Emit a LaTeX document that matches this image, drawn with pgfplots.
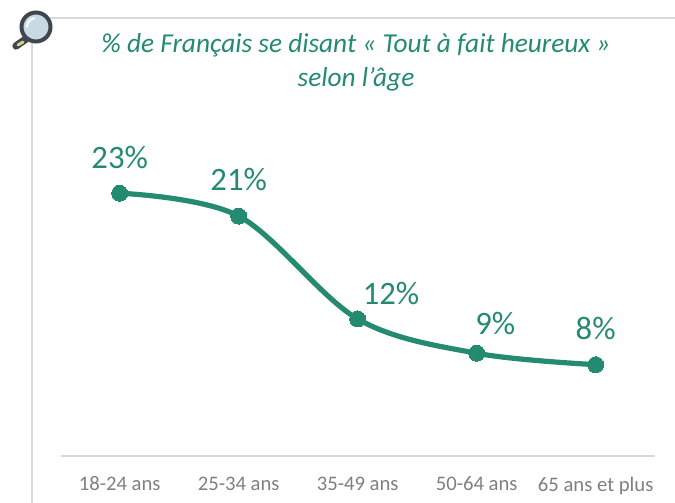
\documentclass[border=0pt]{standalone}
\usepackage{pgfplots}
\pgfplotsset{compat=1.18}
\usepackage{fontspec}
\setmainfont{Carlito}
\definecolor{vert}{HTML}{248A70}
\definecolor{grille}{HTML}{D9D9D9}
\definecolor{tick}{HTML}{7F7F7F}
\definecolor{loupe}{HTML}{3F464D}
\definecolor{verre}{HTML}{C9D9E4}
\definecolor{manche}{HTML}{D6D27A}
\pgfplotstableread{
x y
0 23
1 21
2 12
3 9
4 8
}\donnees
\begin{document}
\begin{tikzpicture}[x=0.75pt,y=0.75pt]
\useasboundingbox (0,0) rectangle (675,503);
\draw[grille,line width=1.5pt] (50,485) -- (675,485);
\draw[grille,line width=1.5pt] (32,461) -- (32,0);
% loupe
\draw[line cap=round,line width=5.5pt,color=loupe] (26,464) -- (16,457);
\draw[line cap=round,line width=2.2pt,color=manche] (23,461) -- (18,458);
\draw[line width=3pt,color=loupe,fill=verre] (36,476) circle (14.5);
\draw[white,line width=1.5pt,line cap=round] (27,476) arc (180:100:9);
\begin{axis}[
  at={(51,41)},anchor=south west,
  scale only axis,width=445.5pt,height=257.2pt,
  xmin=-0.496,xmax=4.496,ymin=0,ymax=30,
  axis y line=none,axis x line=bottom,
  axis line style={grille,line width=1.5pt,-},
  xtick={0,1,2,3,4},
  xticklabels={18-24 ans,25-34 ans,35-49 ans,50-64 ans,65 ans et plus},
  major tick length=0pt,
  xticklabel style={text=tick,font=\fontsize{15.5pt}{18pt}\selectfont,yshift=-12pt},
  clip=false,
]
\addplot[vert,line width=3.9pt,smooth,tension=0.55,mark=*,
  mark options={fill=vert,draw=vert,line width=0pt},mark size=6pt,
  nodes near coords={\pgfmathprintnumber[assume math mode=true]{\pgfplotspointmeta}\%},
  point meta=y,
  every node near coord/.style={anchor=center,text=vert,font=\fontsize{24.5pt}{28pt}\selectfont,yshift=27pt},
  coordinate style/.condition={x==1}{yshift=0.5pt},
  coordinate style/.condition={x==2}{xshift=25pt,yshift=-8pt},
  coordinate style/.condition={x==3}{xshift=14pt,yshift=-4.5pt},
  coordinate style/.condition={x==4}{yshift=0.5pt},
] table[x=x,y=y] {\donnees};
\end{axis}
\node[vert,font=\fontsize{20.5pt}{26pt}\itshape\selectfont,align=center,anchor=center] at (356,440.5)
  {\% de Français se disant « Tout à fait heureux »\\ selon l’âge};
\end{tikzpicture}
\end{document}
